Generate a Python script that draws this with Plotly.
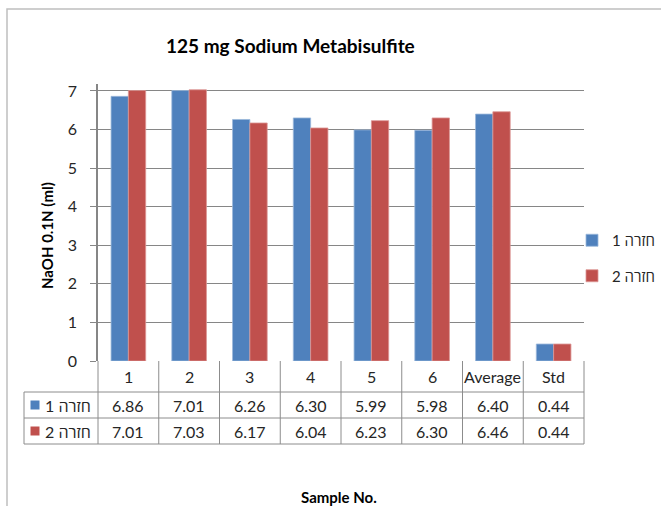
import plotly.graph_objects as go

# Titration results: NaOH 0.1N volume (ml) for two repeats
categories = ["1", "2", "3", "4", "5", "6", "Average", "Std"]
repeat_1 = [6.86, 7.01, 6.26, 6.30, 5.99, 5.98, 6.40, 0.44]
repeat_2 = [7.01, 7.03, 6.17, 6.04, 6.23, 6.30, 6.46, 0.44]
series_names = ["חזרה 1", "חזרה 2"]
y_ticks = [0, 1, 2, 3, 4, 5, 6, 7]

BLUE = "#4F81BD"
RED = "#C0504D"
GRID = "#868686"
FONT = "Lato, 'Open Sans', sans-serif"
TEXT = "#262626"

W, H = 661, 506
L, R, T, B = 98, 77, 84, 145
plot_w = W - L - R
plot_h = H - T - B


def px_x(x):
    """Pixel column -> paper x."""
    return (x - L) / plot_w


def px_y(y):
    """Pixel row -> paper y."""
    return (H - B - y) / plot_h


def rtl(s):
    # keep the trailing number on the left, as in right-to-left reading
    return s + "\u200f"


fig = go.Figure()
for name, vals, col, edge in [
    (series_names[0], repeat_1, BLUE, "#9BB7DA"),
    (series_names[1], repeat_2, RED, "#DC9694"),
]:
    fig.add_trace(go.Bar(
        x=categories, y=vals, name=rtl(name), legendgroup=name,
        marker=dict(color=col, line=dict(color=edge, width=0.8)),
    ))

n = len(categories)
shapes = []
annotations = []
line_style = dict(color="#8C8C8C", width=1)

# chart frame (runs past the right and bottom edges)
shapes.append(dict(type="rect", xref="paper", yref="paper",
                   x0=px_x(7), x1=px_x(W + 20), y0=px_y(H + 20), y1=px_y(9),
                   line=dict(color="#BFBFBF", width=1.5), layer="below"))

# data table under the axis
row_y = [px_y(361), px_y(392), px_y(418), px_y(444)]
label_left = px_x(24)
for k in range(n + 1):
    shapes.append(dict(type="line", xref="paper", yref="paper",
                       x0=k / n, x1=k / n, y0=row_y[0], y1=row_y[3], line=line_style))
for yy in row_y[1:]:
    shapes.append(dict(type="line", xref="paper", yref="paper",
                       x0=label_left, x1=1, y0=yy, y1=yy, line=line_style))
shapes.append(dict(type="line", xref="paper", yref="paper",
                   x0=label_left, x1=label_left, y0=row_y[1], y1=row_y[3], line=line_style))

cell_font = dict(family=FONT, size=16, color=TEXT)
cell = dict(xref="paper", yref="paper", showarrow=False, xanchor="center",
            yanchor="middle", font=cell_font)
for i, c in enumerate(categories):
    xc = (i + 0.5) / n
    annotations.append(dict(cell, x=xc, y=(row_y[0] + row_y[1]) / 2, text=c))
    annotations.append(dict(cell, x=xc, y=(row_y[1] + row_y[2]) / 2, text=f"{repeat_1[i]:.2f}"))
    annotations.append(dict(cell, x=xc, y=(row_y[2] + row_y[3]) / 2, text=f"{repeat_2[i]:.2f}"))

for r, (name, col) in enumerate(zip(series_names, [BLUE, RED])):
    yc_px = [405, 431][r]
    shapes.append(dict(type="rect", xref="paper", yref="paper",
                       x0=px_x(30.5), x1=px_x(39.5), y0=px_y(yc_px + 4.5), y1=px_y(yc_px - 4.5),
                       fillcolor=col, line=dict(width=0)))
    annotations.append(dict(cell, x=px_x(93), y=px_y(yc_px), xanchor="right", text=rtl(name)))

# titles
title_font = dict(family=FONT, color="#000000")
annotations.append(dict(xref="paper", yref="paper", x=px_x(290), y=px_y(45),
                        xanchor="center", yanchor="middle",
                        text="<b>125 mg Sodium Metabisulfite</b>", showarrow=False,
                        font=dict(title_font, size=19)))
annotations.append(dict(xref="paper", yref="paper", x=px_x(47), y=px_y(236),
                        xanchor="center", yanchor="middle",
                        text="<b>NaOH 0.1N (ml)</b>", textangle=-90, showarrow=False,
                        font=dict(title_font, size=15)))
annotations.append(dict(xref="paper", yref="paper", x=px_x(339), y=px_y(497),
                        xanchor="center", yanchor="middle",
                        text="<b>Sample No.</b>", showarrow=False,
                        font=dict(title_font, size=15)))

fig.update_layout(
    width=W, height=H,
    margin=dict(l=L, r=R, t=T, b=B, pad=0, autoexpand=False),
    paper_bgcolor="white", plot_bgcolor="white",
    barmode="group", bargap=0.43, bargroupgap=0,
    showlegend=True,
    legend=dict(x=px_x(572), y=px_y(258), xanchor="left", yanchor="middle",
                traceorder="grouped", tracegroupgap=13, itemwidth=30,
                font=dict(family=FONT, size=15, color=TEXT), bgcolor="rgba(0,0,0,0)"),
    shapes=shapes, annotations=annotations,
    xaxis=dict(showticklabels=False, ticks="", showgrid=False, showline=False,
               zeroline=False, range=[-0.5, n - 0.5]),
    yaxis=dict(range=[0, 7.18], tickvals=y_ticks, showgrid=True, gridcolor=GRID,
               gridwidth=1, showline=True, linecolor=GRID, linewidth=1.5,
               ticks="outside", ticklen=6, tickcolor=GRID, ticklabelstandoff=10,
               zeroline=False, tickfont=dict(family=FONT, size=16, color=TEXT)),
)

fig.write_html("out.html")
